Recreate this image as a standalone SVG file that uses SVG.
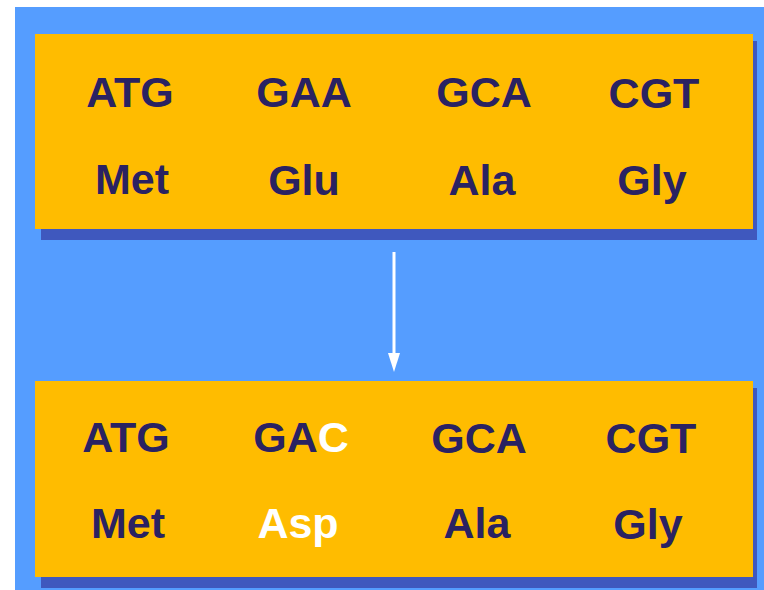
<svg xmlns="http://www.w3.org/2000/svg" width="764" height="590" viewBox="0 0 764 590">
<defs>
<style>
.bg{fill:#559DFF}
.box{fill:#FFBC00}
.shadow{fill:#3F58BE}
.t{font-family:"Liberation Sans",Arial,sans-serif;font-weight:bold;font-size:43px;fill:#2A2262;text-anchor:middle}
.w{fill:#FFFFFF}
.conn{stroke:#FFFFFF;stroke-width:3;fill:none}
</style>
</defs>
<rect x="0" y="0" width="764" height="590" fill="#FFFFFF"/>
<rect class="bg" x="15" y="7" width="749" height="583"/>
<g id="top-box">
<rect class="shadow" x="41" y="41" width="716" height="199"/>
<rect class="box" x="35" y="34" width="718" height="195"/>
<text class="t" x="130" y="107">ATG</text>
<text class="t" x="304" y="107">GAA</text>
<text class="t" x="484" y="107">GCA</text>
<text class="t" x="654" y="108">CGT</text>
<text class="t" x="132" y="194">Met</text>
<text class="t" x="304" y="195">Glu</text>
<text class="t" x="482" y="195">Ala</text>
<text class="t" x="652" y="195">Gly</text>
</g>
<g id="bottom-box">
<rect class="shadow" x="41" y="388" width="716" height="200"/>
<rect class="box" x="35" y="381" width="718" height="196"/>
<text class="t" x="126" y="452">ATG</text>
<text class="t" x="301" y="452">GA<tspan class="w">C</tspan></text>
<text class="t" x="479" y="453">GCA</text>
<text class="t" x="651" y="453">CGT</text>
<text class="t" x="128" y="538">Met</text>
<text class="t w" x="298" y="538">Asp</text>
<text class="t" x="477" y="538">Ala</text>
<text class="t" x="648" y="539">Gly</text>
</g>
<g id="connectors">
<line class="conn" x1="394" y1="252" x2="394" y2="358"/>
<path d="M388,353 L400,353 L394,372 Z" fill="#FFFFFF"/>
</g>
</svg>
